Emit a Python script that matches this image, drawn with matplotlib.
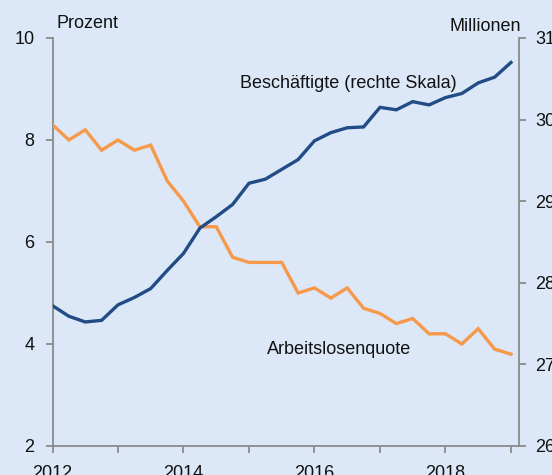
"""
Arbeitslosenquote vs. Beschäftigte, quarterly 2012-2019, two y-scales.
"""

import matplotlib
matplotlib.use("Agg")
import matplotlib.pyplot as plt
import numpy as np


# ---------------------------------------------------------------------------
# Data (quarterly, 2012 Q1 .. 2019 Q1)
# ---------------------------------------------------------------------------
start_year = 2012
unemployment_rate = [8.3, 8.0, 8.2, 7.8, 8.0, 7.8, 7.9, 7.2, 6.8, 6.3,
                     6.3, 5.7, 5.6, 5.6, 5.6, 5.0, 5.1, 4.9, 5.1, 4.7,
                     4.6, 4.4, 4.5, 4.2, 4.2, 4.0, 4.3, 3.9, 3.8]
employed_mn = [27.72, 27.59, 27.52, 27.54, 27.73, 27.82, 27.93, 28.15, 28.36, 28.67,
               28.81, 28.96, 29.22, 29.27, 29.39, 29.51, 29.74, 29.84, 29.90, 29.91,
               30.15, 30.12, 30.22, 30.18, 30.27, 30.32, 30.45, 30.52, 30.70]
year_ticks = list(range(2012, 2020))
year_labels = ["2012", "", "2014", "", "2016", "", "2018", ""]
left_ticks = [2, 4, 6, 8, 10]
right_ticks = [26, 27, 28, 29, 30, 31]

# ---------------------------------------------------------------------------
# Style
# ---------------------------------------------------------------------------
BG = "#dce8f7"
ORANGE = "#f7994a"
BLUE = "#224c85"
AXIS = "#8a8a8a"

plt.rcParams["font.family"] = ["Liberation Sans", "DejaVu Sans"]
plt.rcParams["font.size"] = 13

W, H = 552, 475
fig = plt.figure(figsize=(W / 100, H / 100), dpi=100, facecolor=BG)
ax = fig.add_axes([52.5 / W, 1 - 446 / H, (518.5 - 52.5) / W, (446 - 38) / H])
ax.set_facecolor(BG)
ax2 = ax.twinx()

x = start_year + np.arange(len(unemployment_rate)) / 4.0

ax.plot(x, unemployment_rate, color=ORANGE, lw=2.4, solid_joinstyle="miter", zorder=3)
ax2.plot(x, employed_mn, color=BLUE, lw=2.4, solid_joinstyle="miter", zorder=3)

ax.set_xlim(2012, 2019.115)
ax.set_ylim(2, 10)
ax2.set_ylim(26, 31)

ax.set_xticks(year_ticks)
ax.set_xticklabels(year_labels)
ax.set_yticks(left_ticks)
ax2.set_yticks(right_ticks)

for a in (ax, ax2):
    for side in ("top",):
        a.spines[side].set_visible(False)
    for side in ("left", "right", "bottom"):
        a.spines[side].set_color(AXIS)
        a.spines[side].set_linewidth(1.3)
    a.tick_params(colors=AXIS, labelcolor="#111111", width=1.3, length=5,
                  labelsize=13)
ax.spines["right"].set_visible(False)
ax2.spines["left"].set_visible(False)
ax2.spines["bottom"].set_visible(False)
ax.tick_params(axis="y", pad=8)
ax.tick_params(axis="x", pad=9)
ax2.tick_params(axis="y", pad=7)

# Labels on the lines
ax.text(2014.86, 9.02, "Beschäftigte (rechte Skala)", ha="left",
        va="baseline", fontsize=13, color="#111111")
ax.text(2015.27, 3.80, "Arbeitslosenquote", ha="left", va="baseline",
        fontsize=13, color="#111111")

# Unit labels
fig.text(57 / W, 1 - 28.5 / H, "Prozent", ha="left", va="baseline",
         fontsize=13, color="#111111")
fig.text(521 / W, 1 - 31 / H, "Millionen", ha="right", va="baseline",
         fontsize=13, color="#111111")

fig.savefig("out.png", dpi=100, facecolor=BG)
